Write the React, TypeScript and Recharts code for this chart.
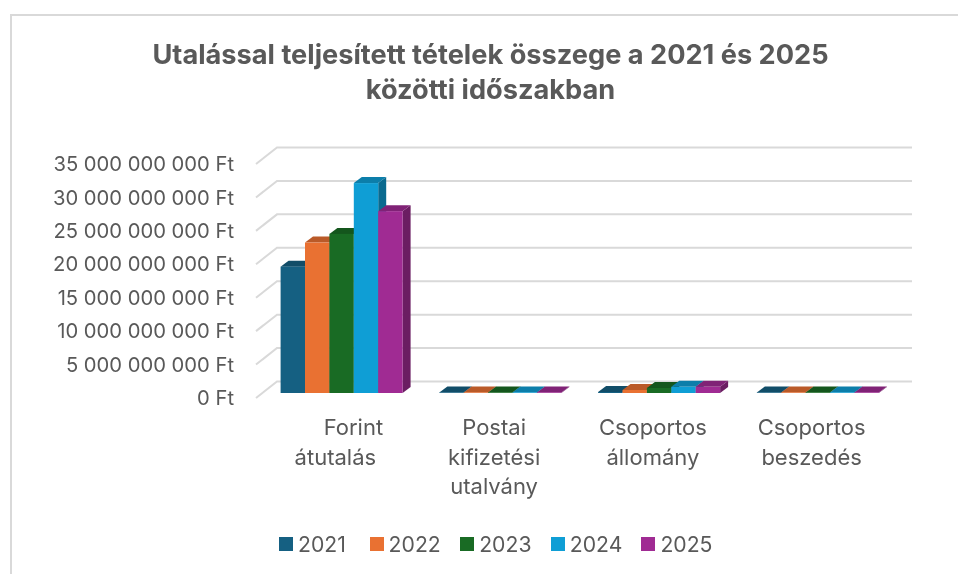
import React from 'react'
import { BarChart, Bar, XAxis, YAxis, CartesianGrid, Legend } from 'recharts'

const categories = ['Forint átutalás', 'Postai kifizetési utalvány', 'Csoportos állomány', 'Csoportos beszedés']
const years = ['2021', '2022', '2023', '2024', '2025']
const colors = ['#156082', '#E97132', '#196B24', '#0F9ED5', '#A02B93']
const sideColors = ['#0E4057', '#9C4C21', '#114818', '#0A6A8F', '#6B1D62']
const topColors = ['#114D68', '#BA5A28', '#14561D', '#0C7EAA', '#802276']

const values2021 = [18900000000, 15000000, 150000000, 8000000]
const values2022 = [22500000000, 15000000, 450000000, 8000000]
const values2023 = [23800000000, 15000000, 750000000, 8000000]
const values2024 = [31400000000, 15000000, 920000000, 8000000]
const values2025 = [27200000000, 15000000, 920000000, 8000000]
const series = [values2021, values2022, values2023, values2024, values2025]

const yTicks = [0, 5000000000, 10000000000, 15000000000, 20000000000, 25000000000, 30000000000, 35000000000]

const chartData = categories.map((name, i) => {
  const row: any = { name }
  years.forEach((y, s) => { row[y] = series[s][i] })
  return row
})

const font = 'Inter, "Open Sans", sans-serif'
const textColor = '#595959'
const depthX = 21
const depthY = 16.5

const formatFt = (v: number) => `${String(v).replace(/\B(?=(\d{3})+(?!\d))/g, ' ')} Ft`

// 3D look: front face sits in the middle of the floor depth
function Bar3D({ x, y, width, height, index: s }: any) {
  const left = x + 6.6
  const right = left + width
  const bottom = y + height - 5
  const top = bottom - Math.max(height, 0.6)
  const dx = 8
  const dy = 6
  return (
    <g>
      <path d={`M${right},${top}L${right + dx},${top - dy}L${right + dx},${bottom - dy}L${right},${bottom}Z`} fill={sideColors[s]} />
      <path d={`M${left},${top}L${left + dx},${top - dy}L${right + dx},${top - dy}L${right},${top}Z`} fill={topColors[s]} />
      <rect x={left} y={top} width={width} height={bottom - top} fill={colors[s]} />
    </g>
  )
}

function GridLine({ x1, x2, y1 }: any) {
  return (
    <path
      d={`M${x1},${y1}L${x1 + depthX},${y1 - depthY}L${x2 + depthX},${y1 - depthY}`}
      fill="none"
      stroke="#D9D9D9"
      strokeWidth={2}
    />
  )
}

const lineShift: Record<string, number> = { Forint: 18 }

function CategoryTick({ x, y, payload }: any) {
  const words = String(payload.value).split(' ')
  return (
    <text x={x} y={y} textAnchor="middle" fontFamily={font} fontSize={22} fill={textColor}>
      {words.map((w, i) => (
        <tspan key={i} x={x + (lineShift[w] || 0)} y={y + 29 + i * 29.5}>{w}</tspan>
      ))}
    </text>
  )
}

function LegendRow() {
  return (
    <div style={{ position: 'relative', height: 24, fontFamily: font, fontSize: 21.2, color: textColor }}>
      {years.map((y, i) => (
        <div key={y} style={{ position: 'absolute', left: 271 + i * 90.6, top: 0, display: 'flex', alignItems: 'center' }}>
          <span style={{ width: 14, height: 14, background: colors[i], marginRight: 5 }} />
          <span>{y}</span>
        </div>
      ))}
    </div>
  )
}

export default function App() {
  return (
    <div style={{ position: 'relative', width: 950, height: 566, background: '#fff' }}>
      <div style={{ position: 'fixed', left: 10, top: 14, width: 948, height: 560, borderLeft: '2px solid #D9D9D9', borderTop: '2px solid #D9D9D9', boxSizing: 'border-box' }} />
      <div style={{ position: 'absolute', left: 14, top: 29, width: 937, textAlign: 'center', fontFamily: font, fontSize: 27.2, fontWeight: 700, lineHeight: '35px', color: textColor, whiteSpace: 'nowrap' }}>
        Utalással teljesített tételek összege a 2021 és 2025<br />közötti időszakban
      </div>
      <BarChart
        width={942}
        height={558}
        data={chartData}
        margin={{ top: 156, right: 59, bottom: 114, left: 0 }}
        barSize={24.4}
        barGap={0}
        style={{ position: 'absolute', left: 0, top: 0 }}
      >
        <CartesianGrid vertical={false} horizontal={(p: any) => <GridLine {...p} key={p.key} />} />
        <XAxis dataKey="name" axisLine={false} tickLine={false} interval={0} tick={<CategoryTick />} height={30} />
        <YAxis
          domain={[0, 35000000000]}
          ticks={yTicks}
          width={248}
          axisLine={false}
          tickLine={false}
          tickFormatter={formatFt}
          tick={{ fontFamily: font, fontSize: 20.2, fill: textColor }}
          tickMargin={16}
          interval={0}
        />
        <Legend content={<LegendRow />} wrapperStyle={{ left: 0, top: 523, width: 942 }} />
        {years.map((y) => (
          <Bar key={y} dataKey={y} isAnimationActive={false} shape={(p: any) => <Bar3D {...p} index={years.indexOf(y)} />} />
        ))}
      </BarChart>
    </div>
  )
}
